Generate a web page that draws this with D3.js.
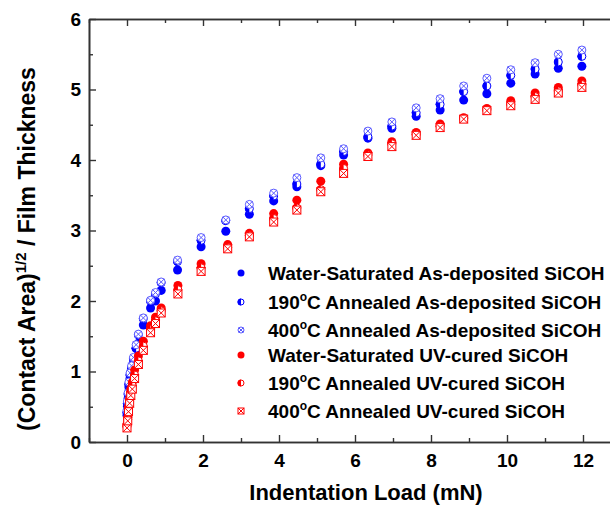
<!DOCTYPE html>
<html>
<head>
<meta charset="utf-8">
<script src="https://cdn.jsdelivr.net/npm/d3@7"></script>
<style>
body { margin: 0; background: #fff; }
text { font-family: "Liberation Sans", Arial, sans-serif; font-weight: bold; fill: #000; }
</style>
</head>
<body>
<div id="chart"></div>
<script>
// series names (legend order)
var seriesNames = [
  "Water-Saturated As-deposited SiCOH",
  "190°C Annealed As-deposited SiCOH",
  "400°C Annealed As-deposited SiCOH",
  "Water-Saturated UV-cured SiCOH",
  "190°C Annealed UV-cured SiCOH",
  "400°C Annealed UV-cured SiCOH"
];

// indentation loads (mN)
var loadAsDep = [0.0, 0.01, 0.03, 0.05, 0.08, 0.12, 0.17, 0.24, 0.3, 0.43, 0.62, 0.75, 0.9, 1.33, 1.95,
                 2.6, 3.22, 3.86, 4.47, 5.1, 5.7, 6.34, 6.97, 7.61, 8.24, 8.86, 9.47, 10.1, 10.74, 11.35, 11.97];
var loadUV = [0.0, 0.02, 0.04, 0.07, 0.1, 0.14, 0.2, 0.3, 0.43, 0.62, 0.75, 0.9, 1.34, 1.95,
              2.65, 3.22, 3.86, 4.47, 5.1, 5.7, 6.34, 6.97, 7.61, 8.24, 8.86, 9.47, 10.1, 10.74, 11.35, 11.97];

// (contact area)^1/2 / film thickness
var waterAsDep = [0.38, 0.5, 0.62, 0.78, 0.9, 1.0, 1.12, 1.33, 1.4, 1.66, 1.9, 2.0, 2.15, 2.44, 2.77,
                  2.99, 3.23, 3.42, 3.62, 3.92, 4.07, 4.31, 4.45, 4.62, 4.71, 4.85, 4.94, 5.09, 5.22, 5.30, 5.33];
var ann190AsDep = [0.42, 0.55, 0.68, 0.82, 0.95, 1.05, 1.18, 1.33, 1.52, 1.75, 2.0, 2.1, 2.26, 2.56, 2.86,
                   3.14, 3.31, 3.49, 3.66, 3.94, 4.12, 4.33, 4.48, 4.67, 4.79, 4.97, 5.05, 5.20, 5.29, 5.39, 5.47];
var ann400AsDep = [0.45, 0.58, 0.7, 0.85, 0.98, 1.08, 1.2, 1.38, 1.53, 1.76, 2.01, 2.12, 2.27, 2.58, 2.9,
                   3.15, 3.37, 3.53, 3.75, 4.03, 4.16, 4.41, 4.54, 4.74, 4.87, 5.05, 5.16, 5.28, 5.38, 5.50, 5.56];
var waterUV = [0.25, 0.35, 0.5, 0.62, 0.75, 0.85, 1.02, 1.22, 1.43, 1.65, 1.77, 1.9, 2.22, 2.53,
               2.8, 2.96, 3.24, 3.43, 3.70, 3.94, 4.10, 4.26, 4.39, 4.51, 4.60, 4.73, 4.84, 4.95, 5.03, 5.12];
var ann190UV = [0.22, 0.32, 0.46, 0.58, 0.7, 0.8, 0.95, 1.15, 1.36, 1.6, 1.72, 1.86, 2.16, 2.47,
                2.76, 2.93, 3.17, 3.32, 3.58, 3.88, 4.07, 4.23, 4.36, 4.48, 4.59, 4.71, 4.79, 4.90, 4.98, 5.07];
var ann400UV = [0.2, 0.3, 0.43, 0.55, 0.66, 0.75, 0.9, 1.1, 1.3, 1.55, 1.68, 1.83, 2.1, 2.42,
                2.74, 2.91, 3.12, 3.29, 3.55, 3.81, 4.05, 4.19, 4.35, 4.46, 4.58, 4.70, 4.77, 4.86, 4.95, 5.03];

var xTicks = [0, 2, 4, 6, 8, 10, 12];
var yTicks = [0, 1, 2, 3, 4, 5, 6];

// chart geometry
var W = 610, H = 507;
var plot = {left: 89, right: 621, top: 19, bottom: 442};

var svg = d3.select("#chart").append("svg")
    .attr("width", W).attr("height", H);

var x = d3.scaleLinear().domain([-1, 13]).range([plot.left, plot.right]);
var y = d3.scaleLinear().domain([0, 6]).range([plot.bottom, plot.top]);

var blue = "#0000ff", red = "#ff0000", lightBlue = "#5a5aff";

var series = [
  {name: seriesNames[0], xs: loadAsDep, ys: waterAsDep, color: blue, kind: "fill"},
  {name: seriesNames[1], xs: loadAsDep, ys: ann190AsDep, color: blue, kind: "half"},
  {name: seriesNames[2], xs: loadAsDep, ys: ann400AsDep, color: lightBlue, kind: "xcircle"},
  {name: seriesNames[3], xs: loadUV, ys: waterUV, color: red, kind: "fill"},
  {name: seriesNames[4], xs: loadUV, ys: ann190UV, color: red, kind: "half"},
  {name: seriesNames[5], xs: loadUV, ys: ann400UV, color: red, kind: "xsquare"}
];

// draws one marker into g, centred at 0,0
function marker(g, kind, color, r) {
  if (kind == "fill") {
    g.append("circle").attr("r", r).attr("fill", color);
  } else if (kind == "half") {
    g.append("circle").attr("r", r - 0.5).attr("fill", "#fff")
        .attr("stroke", color).attr("stroke-width", 1);
    g.append("path")
        .attr("d", "M0," + (-r) + "A" + r + "," + r + " 0 0 0 0," + r + "Z")
        .attr("fill", color);
  } else if (kind == "xcircle") {
    var k = r * 0.7;
    g.append("circle").attr("r", r - 0.5).attr("fill", "#fff")
        .attr("stroke", color).attr("stroke-width", 1);
    g.append("path")
        .attr("d", "M" + (-k) + "," + (-k) + "L" + k + "," + k + "M" + (-k) + "," + k + "L" + k + "," + (-k))
        .attr("stroke", color).attr("stroke-width", 1);
  } else {
    var s = r - 0.5;
    g.append("rect").attr("x", -s).attr("y", -s).attr("width", 2 * s).attr("height", 2 * s)
        .attr("fill", "#fff").attr("stroke", color).attr("stroke-width", 1);
    g.append("path")
        .attr("d", "M" + (-s) + "," + (-s) + "L" + s + "," + s + "M" + (-s) + "," + s + "L" + s + "," + (-s))
        .attr("stroke", color).attr("stroke-width", 1);
  }
}

// points
series.forEach(function(s) {
  var g = svg.append("g");
  s.xs.forEach(function(xv, i) {
    var m = g.append("g").attr("transform", "translate(" + x(xv) + "," + y(s.ys[i]) + ")");
    marker(m, s.kind, s.color, 4.5);
  });
});

// axes: ticks point inward
var axisColor = "#333";
function styleAxis(g) {
  g.select(".domain").attr("stroke", axisColor).attr("stroke-width", 1.6);
  g.selectAll(".tick line").attr("stroke", axisColor).attr("stroke-width", 1.4);
  g.selectAll("text").attr("font-size", 19).attr("font-family", null).attr("fill", "#000");
}
var xMinor = [-1, 1, 3, 5, 7, 9, 11, 13];
var yMinor = [0.5, 1.5, 2.5, 3.5, 4.5, 5.5];

svg.append("g").attr("transform", "translate(0," + plot.bottom + ")")
    .call(d3.axisBottom(x).tickValues(xMinor).tickFormat("").tickSizeInner(-4).tickSizeOuter(0)).call(styleAxis);
svg.append("g").attr("transform", "translate(0," + plot.bottom + ")")
    .call(d3.axisBottom(x).tickValues(xTicks).tickSizeInner(-7).tickSizeOuter(0).tickPadding(12)).call(styleAxis);
svg.append("g").attr("transform", "translate(0," + plot.top + ")")
    .call(d3.axisTop(x).tickValues(xMinor).tickFormat("").tickSizeInner(-4).tickSizeOuter(0)).call(styleAxis);
svg.append("g").attr("transform", "translate(0," + plot.top + ")")
    .call(d3.axisTop(x).tickValues(xTicks).tickFormat("").tickSizeInner(-7).tickSizeOuter(0)).call(styleAxis);

svg.append("g").attr("transform", "translate(" + plot.left + ",0)")
    .call(d3.axisLeft(y).tickValues(yMinor).tickFormat("").tickSizeInner(-4).tickSizeOuter(0)).call(styleAxis);
svg.append("g").attr("transform", "translate(" + plot.left + ",0)")
    .call(d3.axisLeft(y).tickValues(yTicks).tickFormat(d3.format("d")).tickSizeInner(-7).tickSizeOuter(0).tickPadding(8)).call(styleAxis);
svg.append("g").attr("transform", "translate(" + plot.right + ",0)")
    .call(d3.axisRight(y).tickValues(yTicks).tickFormat("").tickSizeInner(-7).tickSizeOuter(0)).call(styleAxis);

// axis titles
svg.append("text")
    .attr("x", 366).attr("y", 500)
    .attr("text-anchor", "middle").attr("font-size", 22)
    .text("Indentation Load (mN)");

var yt = svg.append("text")
    .attr("transform", "translate(35,249) rotate(-90)")
    .attr("text-anchor", "middle").attr("font-size", 23);
yt.append("tspan").text("(Contact Area)");
yt.append("tspan").attr("font-size", 15).attr("dy", -9).text("1/2");
yt.append("tspan").attr("dy", 9).text(" / Film Thickness");

// legend
var legendY = [273, 302, 330, 355, 383, 411];
series.forEach(function(s, i) {
  var m = svg.append("g").attr("transform", "translate(241," + legendY[i] + ")");
  marker(m, s.kind, s.color, 3.5);
  var t = svg.append("text").attr("x", 268).attr("y", legendY[i] + 7).attr("font-size", 19);
  var parts = s.name.split("°");
  t.append("tspan").text(parts[0]);
  if (parts.length > 1) {
    t.append("tspan").attr("font-size", 12).attr("dy", -8).text("o");
    t.append("tspan").attr("dy", 8).text(parts[1]);
  }
});
</script>
</body>
</html>
